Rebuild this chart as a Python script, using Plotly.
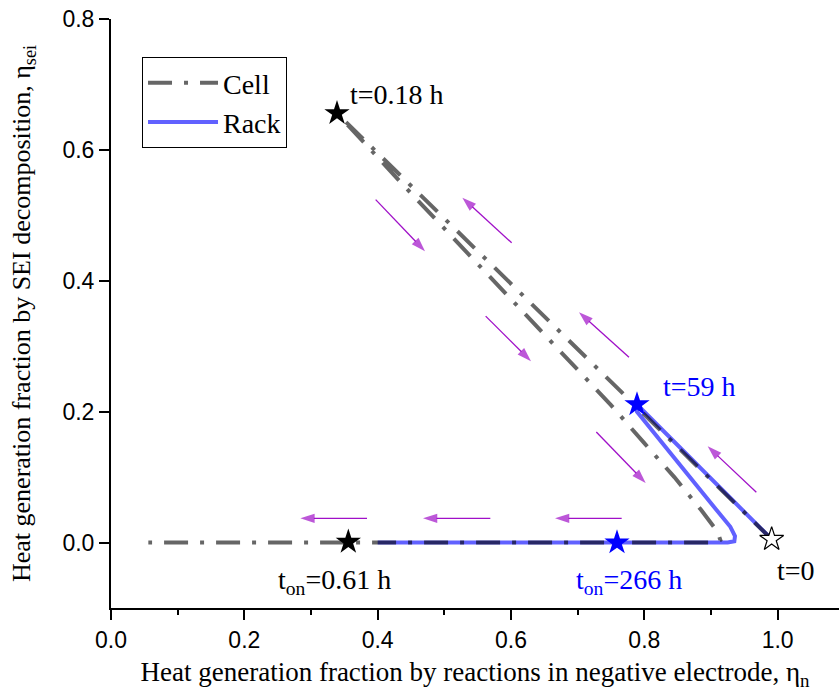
import plotly.graph_objects as go

# Trajectories in the (eta_n, eta_sei) plane
cell_x = [0.991, 0.339, 0.435, 0.528, 0.620, 0.689, 0.750, 0.799, 0.845, 0.885,
          0.905, 0.912, 0.914, 0.910, 0.900, 0.056]
cell_y = [0.005, 0.656, 0.550, 0.450, 0.350, 0.275, 0.210, 0.153, 0.100, 0.050,
          0.023, 0.010, 0.004, 0.001, 0.000, 0.000]

rack_x = [0.991, 0.789, 0.789, 0.836, 0.882, 0.912, 0.929, 0.936, 0.935, 0.925, 0.400]
rack_y = [0.005, 0.211, 0.200, 0.140, 0.082, 0.045, 0.024, 0.010, 0.002, 0.000, 0.000]

# Marked instants
cell_star_x = [0.339, 0.356]
cell_star_y = [0.656, 0.001]
rack_star_x = [0.789, 0.759]
rack_star_y = [0.211, 0.000]
start_x = [0.991]
start_y = [0.005]

# Labels of the marked instants
label_text = ["t=0.18 h", "t=59 h", "t=0", "t<sub>on</sub>=0.61 h", "t<sub>on</sub>=266 h"]
label_x = [0.355, 0.825, 0.996, 0.248, 0.694]
label_y = [0.684, 0.239, -0.042, -0.060, -0.060]
label_color = ["#000000", "#0000ff", "#000000", "#000000", "#0000ff"]

# Direction arrows (tail -> head)
arrow_tail_x = [0.397, 0.601, 0.562, 0.777, 0.728, 0.968, 0.384, 0.569, 0.766]
arrow_tail_y = [0.524, 0.458, 0.346, 0.283, 0.169, 0.077, 0.037, 0.037, 0.037]
arrow_head_x = [0.471, 0.527, 0.630, 0.702, 0.802, 0.895, 0.284, 0.468, 0.666]
arrow_head_y = [0.445, 0.527, 0.277, 0.352, 0.091, 0.147, 0.037, 0.037, 0.037]

SERIF = "Liberation Serif, Times New Roman, serif"
SANS = "Liberation Sans, Arial, sans-serif"
ARROW = "#a010c8"

fig = go.Figure()

fig.add_trace(go.Scatter(
    x=rack_x, y=rack_y, mode="lines", name="Rack",
    line=dict(color="rgba(0,0,255,0.62)", width=4),
))
fig.add_trace(go.Scatter(
    x=cell_x, y=cell_y, mode="lines", name="Cell",
    line=dict(color="rgba(0,0,0,0.6)", width=4, dash="24px,12px,4px,12px"),
))

for tx, ty, hx, hy in zip(arrow_tail_x, arrow_tail_y, arrow_head_x, arrow_head_y):
    fig.add_trace(go.Scatter(
        x=[tx, hx], y=[ty, hy], mode="lines+markers", showlegend=False,
        hoverinfo="skip",
        line=dict(color=ARROW, width=1.3),
        marker=dict(symbol="arrow", size=[0, 15], angleref="previous",
                    color=ARROW, line=dict(width=0)),
    ))

fig.add_trace(go.Scatter(
    x=cell_star_x, y=cell_star_y, mode="markers", showlegend=False,
    marker=dict(symbol="star", size=19, color="#000000", line=dict(width=0)),
))
fig.add_trace(go.Scatter(
    x=rack_star_x, y=rack_star_y, mode="markers", showlegend=False,
    marker=dict(symbol="star", size=19, color="#0000ff", line=dict(width=0)),
))
fig.add_trace(go.Scatter(
    x=start_x, y=start_y, mode="markers", showlegend=False,
    marker=dict(symbol="star", size=18, color="#ffffff",
                line=dict(width=1.2, color="#000000")),
))

for txt, lx, ly, col in zip(label_text, label_x, label_y, label_color):
    fig.add_annotation(x=lx, y=ly, text=txt, showarrow=False,
                       xanchor="left", yanchor="middle",
                       font=dict(family=SERIF, size=28, color=col))

axis_common = dict(
    showline=True, linecolor="#000000", linewidth=2, mirror=False,
    ticks="outside", ticklen=10, tickwidth=2, tickcolor="#000000",
    showgrid=False, zeroline=False, tickformat=".1f",
    tickfont=dict(family=SANS, size=23, color="#000000"),
)

fig.update_layout(
    width=839, height=691,
    margin=dict(l=111, r=0, t=19, b=83),
    paper_bgcolor="#ffffff", plot_bgcolor="#ffffff",
    xaxis=dict(
        range=[0, 1.092], tick0=0, dtick=0.2,
        minor=dict(dtick=0.1, ticks="outside", ticklen=5, tickwidth=2,
                   tickcolor="#000000", showgrid=False),
        title=dict(text="Heat generation fraction by reactions in negative electrode, η<sub>n</sub>",
                   font=dict(family=SERIF, size=27, color="#000000"), standoff=12),
        **axis_common,
    ),
    yaxis=dict(
        range=[-0.1, 0.8], tick0=0, dtick=0.2,
        title=dict(text="Heat generation fraction by SEI decomposition, η<sub>sei</sub>",
                   font=dict(family=SERIF, size=26, color="#000000"), standoff=24),
        **axis_common,
    ),
    legend=dict(
        x=0.0426, y=0.9355, xanchor="left", yanchor="top",
        bordercolor="#000000", borderwidth=1, bgcolor="#ffffff",
        font=dict(family=SERIF, size=28, color="#000000"),
        itemwidth=70, traceorder="reversed",
    ),
    showlegend=True,
)

fig.write_html("out.html")
